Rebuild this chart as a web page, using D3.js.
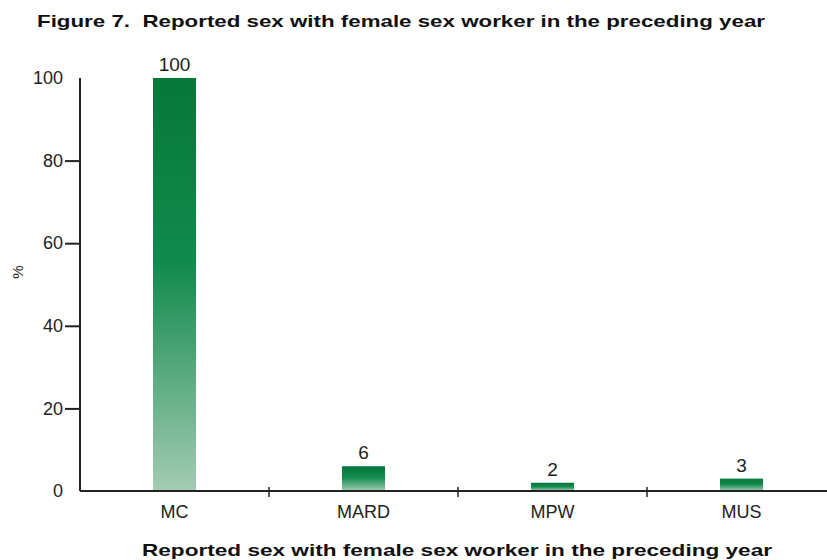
<!DOCTYPE html>
<html><head><meta charset="utf-8">
<script src="https://cdn.jsdelivr.net/npm/d3@7"></script>
<style>body{margin:0;background:#fff}svg{display:block}text{font-family:"Liberation Sans",Arial,sans-serif;fill:#222}</style>
</head><body><svg id="c" width="827" height="560"></svg>
<script>
const categories = ["MC","MARD","MPW","MUS"];
const values = [100,6,2,3];
const yTicks = [0,20,40,60,80,100];
const title = "Figure 7.  Reported sex with female sex worker in the preceding year";
const xTitle = "Reported sex with female sex worker in the preceding year";
const yTitle = "%";

const svg = d3.select("#c");
const x = d3.scaleBand().domain(categories).range([80, 836]).padding(0);
const y = d3.scaleLinear().domain([0,100]).range([491, 78]);
const barW = 43;

const defs = svg.append("defs");
const g = defs.append("linearGradient").attr("id","gr").attr("x1",0).attr("y1",0).attr("x2",0).attr("y2",1);
g.append("stop").attr("offset","0%").attr("stop-color","#067838");
g.append("stop").attr("offset","45%").attr("stop-color","#128a4e");
g.append("stop").attr("offset","100%").attr("stop-color","#a3ccb3");

svg.append("text").attr("x",37).attr("y",27).attr("font-size",17).attr("font-weight","bold")
  .attr("textLength",728).attr("lengthAdjust","spacingAndGlyphs").style("fill","#111")
  .style("white-space","pre").text(title);

// bars
svg.selectAll("rect.bar").data(categories).join("rect").attr("class","bar")
  .attr("x",d=>x(d)+x.bandwidth()/2-barW/2).attr("width",barW)
  .attr("y",(d,i)=>y(values[i])).attr("height",(d,i)=>y(0)-y(values[i]))
  .attr("fill","url(#gr)");

svg.selectAll("text.val").data(categories).join("text").attr("class","val")
  .attr("x",d=>x(d)+x.bandwidth()/2).attr("y",(d,i)=>y(values[i])-7)
  .attr("text-anchor","middle").attr("font-size",19).text((d,i)=>values[i]);

// y axis
const ya = svg.append("g").attr("transform","translate(80,0)")
  .call(d3.axisLeft(y).tickValues(yTicks).tickSize(15).tickPadding(2).tickFormat(d3.format("d")));
ya.attr("font-size",18).attr("font-family",null);
ya.select(".domain").attr("stroke","#222").attr("stroke-width",2).attr("d","M0,"+y(100)+"V"+y(0));
ya.selectAll(".tick line").attr("stroke","#222").attr("stroke-width",2)
  .attr("display",d=>(d===0||d===100)?"none":null);
ya.selectAll(".tick text").style("font-size","18px").style("fill","#222");

// x axis
svg.append("line").attr("x1",80).attr("x2",827).attr("y1",y(0)).attr("y2",y(0)).attr("stroke","#222").attr("stroke-width",2);
svg.selectAll("line.sep").data(categories.slice(1)).join("line").attr("class","sep")
  .attr("x1",d=>x(d)).attr("x2",d=>x(d)).attr("y1",y(0)-4).attr("y2",y(0)+6)
  .attr("stroke","#222").attr("stroke-width",1.5);
svg.selectAll("text.cat").data(categories).join("text").attr("class","cat")
  .attr("x",d=>x(d)+x.bandwidth()/2).attr("y",518).attr("text-anchor","middle").style("font-size","18px").text(d=>d);

svg.append("text").attr("x",457).attr("y",556).attr("text-anchor","middle").attr("font-size",17)
  .attr("font-weight","bold").attr("textLength",630).attr("lengthAdjust","spacingAndGlyphs").style("fill","#111").text(xTitle);
svg.append("text").attr("transform","translate(23,272) rotate(-90)").attr("text-anchor","middle").style("font-size","15px").text(yTitle);
</script></body></html>
